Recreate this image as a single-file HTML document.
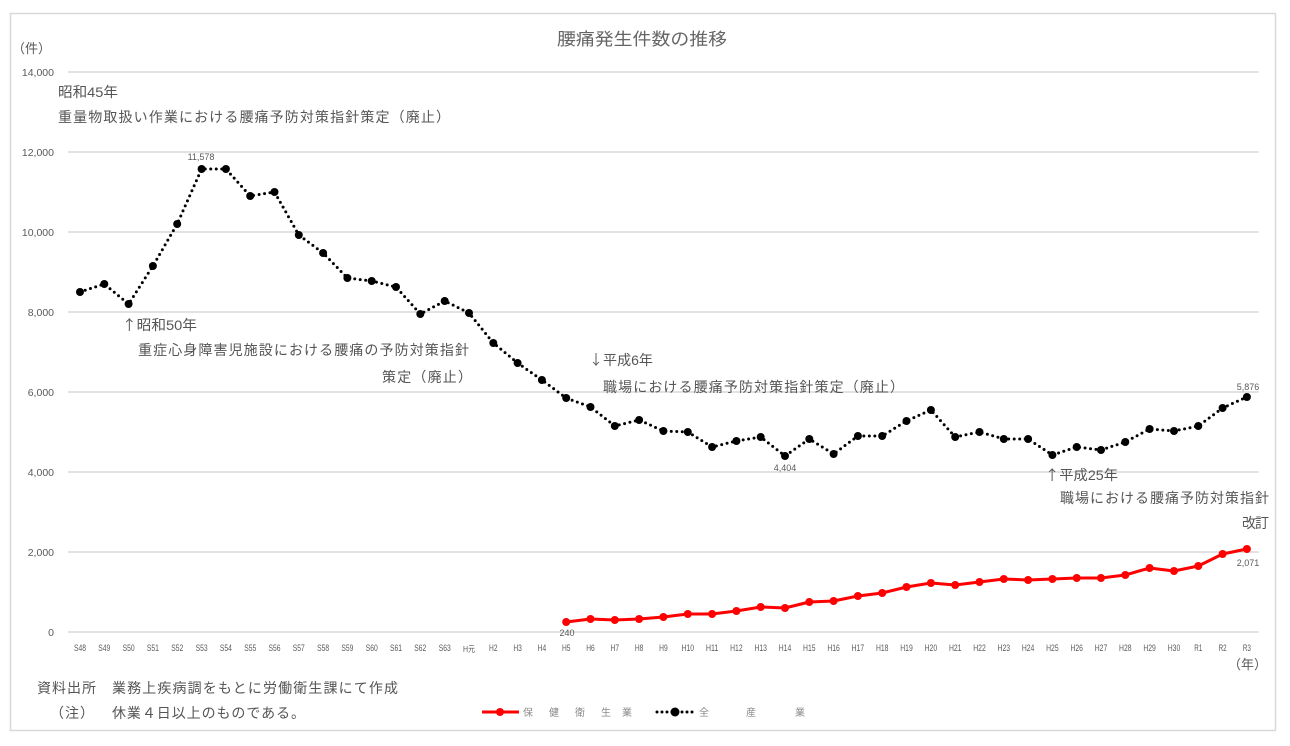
<!DOCTYPE html>
<html><head><meta charset="utf-8"><style>
html,body{margin:0;padding:0;background:#fff;}
svg{display:block;}
.jp{font-family:"Liberation Sans","Noto Sans CJK JP",sans-serif;}
.cjk{font-family:"Noto Sans CJK JP",sans-serif;}
.ax{font-family:"Liberation Sans",sans-serif;fill:#595959;}
</style></head><body>
<svg width="1290" height="746" viewBox="0 0 1290 746" xmlns="http://www.w3.org/2000/svg">
<defs>
<marker id="mb" markerWidth="10" markerHeight="10" refX="5" refY="5" markerUnits="userSpaceOnUse"><circle cx="5" cy="5" r="4" fill="#000"/></marker>
<marker id="mr" markerWidth="10" markerHeight="10" refX="5" refY="5" markerUnits="userSpaceOnUse"><circle cx="5" cy="5" r="4" fill="#ff0000"/></marker>
</defs>
<rect x="0" y="0" width="1290" height="746" fill="#fff"/>
<rect x="10.5" y="13.5" width="1265" height="717" fill="#fff" stroke="#d9d9d9" stroke-width="1.5"/>

<text class="jp" x="557" y="45" font-size="17" fill="#666" textLength="170" lengthAdjust="spacingAndGlyphs">腰痛発生件数の推移</text>

<g stroke="#d9d9d9" stroke-width="1.5">
<line x1="68" y1="72" x2="1259" y2="72"/>
<line x1="68" y1="152" x2="1259" y2="152"/>
<line x1="68" y1="232" x2="1259" y2="232"/>
<line x1="68" y1="312" x2="1259" y2="312"/>
<line x1="68" y1="392" x2="1259" y2="392"/>
<line x1="68" y1="472" x2="1259" y2="472"/>
<line x1="68" y1="552" x2="1259" y2="552"/>
<line x1="68" y1="632" x2="1259" y2="632"/>
</g>

<g class="ax" font-size="10.5" text-anchor="end">
<text x="54" y="76">14,000</text>
<text x="54" y="156">12,000</text>
<text x="54" y="236">10,000</text>
<text x="54" y="316">8,000</text>
<text x="54" y="396">6,000</text>
<text x="54" y="476">4,000</text>
<text x="54" y="556">2,000</text>
<text x="54" y="636">0</text>
</g>
<text class="jp" x="12" y="53" font-size="13" fill="#595959">（件）</text>
<text class="jp" x="1228" y="669" font-size="13" fill="#595959">（年）</text>

<g class="ax" font-size="9.5" text-anchor="middle">
<text x="80" y="651" textLength="12" lengthAdjust="spacingAndGlyphs">S48</text>
<text x="104.3" y="651" textLength="12" lengthAdjust="spacingAndGlyphs">S49</text>
<text x="128.6" y="651" textLength="12" lengthAdjust="spacingAndGlyphs">S50</text>
<text x="152.9" y="651" textLength="12" lengthAdjust="spacingAndGlyphs">S51</text>
<text x="177.2" y="651" textLength="12" lengthAdjust="spacingAndGlyphs">S52</text>
<text x="201.6" y="651" textLength="12" lengthAdjust="spacingAndGlyphs">S53</text>
<text x="225.9" y="651" textLength="12" lengthAdjust="spacingAndGlyphs">S54</text>
<text x="250.2" y="651" textLength="12" lengthAdjust="spacingAndGlyphs">S55</text>
<text x="274.5" y="651" textLength="12" lengthAdjust="spacingAndGlyphs">S56</text>
<text x="298.8" y="651" textLength="12" lengthAdjust="spacingAndGlyphs">S57</text>
<text x="323.1" y="651" textLength="12" lengthAdjust="spacingAndGlyphs">S58</text>
<text x="347.4" y="651" textLength="12" lengthAdjust="spacingAndGlyphs">S59</text>
<text x="371.7" y="651" textLength="12" lengthAdjust="spacingAndGlyphs">S60</text>
<text x="396" y="651" textLength="12" lengthAdjust="spacingAndGlyphs">S61</text>
<text x="420.3" y="651" textLength="12" lengthAdjust="spacingAndGlyphs">S62</text>
<text x="444.7" y="651" textLength="12" lengthAdjust="spacingAndGlyphs">S63</text>
<text class="jp" x="469" y="652" font-size="8.5" textLength="12" lengthAdjust="spacingAndGlyphs">H元</text>
<text x="493.3" y="651" textLength="8.5" lengthAdjust="spacingAndGlyphs">H2</text>
<text x="517.6" y="651" textLength="8.5" lengthAdjust="spacingAndGlyphs">H3</text>
<text x="541.9" y="651" textLength="8.5" lengthAdjust="spacingAndGlyphs">H4</text>
<text x="566.2" y="651" textLength="8.5" lengthAdjust="spacingAndGlyphs">H5</text>
<text x="590.5" y="651" textLength="8.5" lengthAdjust="spacingAndGlyphs">H6</text>
<text x="614.8" y="651" textLength="8.5" lengthAdjust="spacingAndGlyphs">H7</text>
<text x="639.1" y="651" textLength="8.5" lengthAdjust="spacingAndGlyphs">H8</text>
<text x="663.4" y="651" textLength="8.5" lengthAdjust="spacingAndGlyphs">H9</text>
<text x="687.8" y="651" textLength="12.5" lengthAdjust="spacingAndGlyphs">H10</text>
<text x="712.1" y="651" textLength="12.5" lengthAdjust="spacingAndGlyphs">H11</text>
<text x="736.4" y="651" textLength="12.5" lengthAdjust="spacingAndGlyphs">H12</text>
<text x="760.7" y="651" textLength="12.5" lengthAdjust="spacingAndGlyphs">H13</text>
<text x="785" y="651" textLength="12.5" lengthAdjust="spacingAndGlyphs">H14</text>
<text x="809.3" y="651" textLength="12.5" lengthAdjust="spacingAndGlyphs">H15</text>
<text x="833.6" y="651" textLength="12.5" lengthAdjust="spacingAndGlyphs">H16</text>
<text x="857.9" y="651" textLength="12.5" lengthAdjust="spacingAndGlyphs">H17</text>
<text x="882.2" y="651" textLength="12.5" lengthAdjust="spacingAndGlyphs">H18</text>
<text x="906.5" y="651" textLength="12.5" lengthAdjust="spacingAndGlyphs">H19</text>
<text x="930.9" y="651" textLength="12.5" lengthAdjust="spacingAndGlyphs">H20</text>
<text x="955.2" y="651" textLength="12.5" lengthAdjust="spacingAndGlyphs">H21</text>
<text x="979.5" y="651" textLength="12.5" lengthAdjust="spacingAndGlyphs">H22</text>
<text x="1003.8" y="651" textLength="12.5" lengthAdjust="spacingAndGlyphs">H23</text>
<text x="1028.1" y="651" textLength="12.5" lengthAdjust="spacingAndGlyphs">H24</text>
<text x="1052.4" y="651" textLength="12.5" lengthAdjust="spacingAndGlyphs">H25</text>
<text x="1076.7" y="651" textLength="12.5" lengthAdjust="spacingAndGlyphs">H26</text>
<text x="1101" y="651" textLength="12.5" lengthAdjust="spacingAndGlyphs">H27</text>
<text x="1125.3" y="651" textLength="12.5" lengthAdjust="spacingAndGlyphs">H28</text>
<text x="1149.6" y="651" textLength="12.5" lengthAdjust="spacingAndGlyphs">H29</text>
<text x="1174" y="651" textLength="12.5" lengthAdjust="spacingAndGlyphs">H30</text>
<text x="1198.3" y="651" textLength="8" lengthAdjust="spacingAndGlyphs">R1</text>
<text x="1222.6" y="651" textLength="8" lengthAdjust="spacingAndGlyphs">R2</text>
<text x="1246.9" y="651" textLength="8" lengthAdjust="spacingAndGlyphs">R3</text>
</g>

<polyline fill="none" stroke="#000" stroke-width="3" stroke-linecap="round" stroke-linejoin="round" stroke-dasharray="0 5.5"
 marker-start="url(#mb)" marker-mid="url(#mb)" marker-end="url(#mb)"
 points="80,292 104.3,284 128.6,304 152.9,266 177.2,224 201.6,169 225.9,169 250.2,196 274.5,192 298.8,235 323.1,253 347.4,278 371.7,281 396,287 420.3,314 444.7,301 469,313 493.3,343 517.6,363 541.9,380 566.2,398 590.5,407 614.8,426 639.1,420 663.4,431 687.8,432 712.1,447 736.4,441 760.7,437 785,456 809.3,439 833.6,454 857.9,436 882.2,436 906.5,421 930.9,410 955.2,437 979.5,432 1003.8,439 1028.1,439 1052.4,455 1076.7,447 1101,450 1125.3,442 1149.6,429 1174,431 1198.3,426 1222.6,408 1246.9,397"/>

<polyline fill="none" stroke="#ff0000" stroke-width="3" stroke-linejoin="round"
 marker-start="url(#mr)" marker-mid="url(#mr)" marker-end="url(#mr)"
 points="566.2,622 590.5,619 614.8,620 639.1,619 663.4,617 687.8,614 712.1,614 736.4,611 760.7,607 785,608 809.3,602 833.6,601 857.9,596 882.2,593 906.5,587 930.9,583 955.2,585 979.5,582 1003.8,579 1028.1,580 1052.4,579 1076.7,578 1101,578 1125.3,575 1149.6,568 1174,571 1198.3,566 1222.6,554 1246.9,549"/>

<g class="ax" font-size="9" text-anchor="middle">
<text x="201" y="160">11,578</text>
<text x="785" y="471">4,404</text>
<text x="1248" y="390">5,876</text>
<text x="1248" y="566">2,071</text>
<text x="567" y="636">240</text>
</g>

<g class="jp" font-size="14" fill="#555">
<text x="58" y="97" textLength="60" lengthAdjust="spacingAndGlyphs">昭和45年</text>
<text x="58" y="122" textLength="392" lengthAdjust="spacing">重量物取扱い作業における腰痛予防対策指針策定（廃止）</text>
<text x="122" y="330" textLength="75" lengthAdjust="spacingAndGlyphs"><tspan class="cjk">↑</tspan>昭和50年</text>
<text x="138" y="355" textLength="331" lengthAdjust="spacing">重症心身障害児施設における腰痛の予防対策指針</text>
<text x="382" y="382" textLength="90" lengthAdjust="spacing">策定（廃止）</text>
<text x="589" y="365" textLength="64" lengthAdjust="spacingAndGlyphs"><tspan class="cjk">↓</tspan>平成6年</text>
<text x="603" y="392" textLength="301" lengthAdjust="spacing">職場における腰痛予防対策指針策定（廃止）</text>
<text x="1045" y="480" textLength="73" lengthAdjust="spacingAndGlyphs"><tspan class="cjk">↑</tspan>平成25年</text>
<text x="1060" y="503" textLength="209" lengthAdjust="spacing">職場における腰痛予防対策指針</text>
<text x="1242" y="528" textLength="27" lengthAdjust="spacing">改訂</text>
</g>

<g class="jp" font-size="14" fill="#555">
<text x="37" y="693" textLength="59" lengthAdjust="spacing">資料出所</text>
<text x="112" y="693" textLength="286" lengthAdjust="spacing">業務上疾病調をもとに労働衛生課にて作成</text>
<text x="50" y="718" textLength="44" lengthAdjust="spacing">（注）</text>
<text x="112" y="718" textLength="193" lengthAdjust="spacing">休業４日以上のものである。</text>
</g>

<line x1="482" y1="712" x2="519" y2="712" stroke="#ff0000" stroke-width="3"/>
<circle cx="500" cy="712" r="4" fill="#ff0000"/>
<g class="jp" font-size="10" fill="#8a8a8a">
<text x="523" y="716">保</text>
<text x="549" y="716">健</text>
<text x="575" y="716">衛</text>
<text x="601" y="716">生</text>
<text x="622" y="716">業</text>
<text x="699" y="716">全</text>
<text x="746" y="716">産</text>
<text x="795" y="716">業</text>
</g>
<line x1="657" y1="712" x2="693" y2="712" stroke="#000" stroke-width="3" stroke-linecap="round" stroke-dasharray="0 5"/>
<circle cx="675" cy="712" r="4.5" fill="#000"/>
</svg>
</body></html>
